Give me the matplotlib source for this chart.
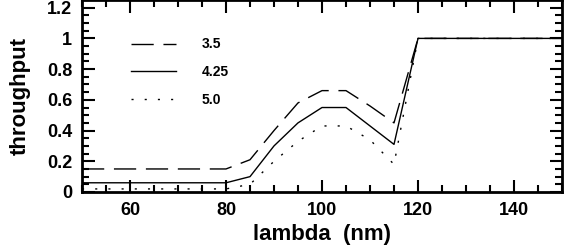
import matplotlib
matplotlib.use('Agg')
import matplotlib.pyplot as plt
from matplotlib.ticker import MultipleLocator

plt.rcParams['font.family'] = ['Liberation Sans', 'DejaVu Sans']
plt.rcParams['font.weight'] = 'bold'

wavelength = [50, 80, 85, 90, 95, 100, 105, 110, 115, 120, 150]
thru_35 = [0.15, 0.15, 0.21, 0.40, 0.58, 0.66, 0.66, 0.56, 0.45, 1.0, 1.0]
thru_425 = [0.06, 0.06, 0.10, 0.30, 0.45, 0.55, 0.55, 0.43, 0.31, 1.0, 1.0]
thru_50 = [0.02, 0.02, 0.05, 0.20, 0.33, 0.43, 0.43, 0.34, 0.18, 1.0, 1.0]
labels = ['3.5', '4.25', '5.0']

fig = plt.figure(figsize=(5.64, 2.5), dpi=100)
ax = fig.add_axes([82/564, 58/250, (562-82)/564, (192-0)/250])

ax.plot(wavelength, thru_35, color='black', lw=1, linestyle=(0, (16, 7)), label=labels[0])
ax.plot(wavelength, thru_425, color='black', lw=1, label=labels[1])
ax.plot(wavelength, thru_50, color='black', lw=1, linestyle=(0, (1.5, 8)), label=labels[2])

ax.set_xlim(50, 150)
ax.set_ylim(0, 1.25)
ax.xaxis.set_major_locator(MultipleLocator(20))
ax.xaxis.set_minor_locator(MultipleLocator(5))
ax.yaxis.set_minor_locator(MultipleLocator(0.05))
ax.set_yticks([0, 0.2, 0.4, 0.6, 0.8, 1.0, 1.2])
ax.set_yticklabels(['0', '0.2', '0.4', '0.6', '0.8', '1', '1.2'])
ax.tick_params(which='both', direction='in', top=True, right=True, width=1.5, labelsize=13)
ax.tick_params(which='major', length=9, pad=7)
ax.tick_params(which='minor', length=5)
for s in ax.spines.values():
    s.set_linewidth(2)

ax.set_xlabel('lambda  (nm)', fontsize=16, fontweight='bold', labelpad=4)
ax.set_ylabel('throughput', fontsize=16, fontweight='bold', labelpad=12)

leg = ax.legend(loc='upper left', bbox_to_anchor=(0.075, 0.87), frameon=False,
                handlelength=3.3, handletextpad=1.8, labelspacing=1.0,
                prop={'weight': 'bold', 'size': 10})

fig.savefig('out.png', dpi=100)
